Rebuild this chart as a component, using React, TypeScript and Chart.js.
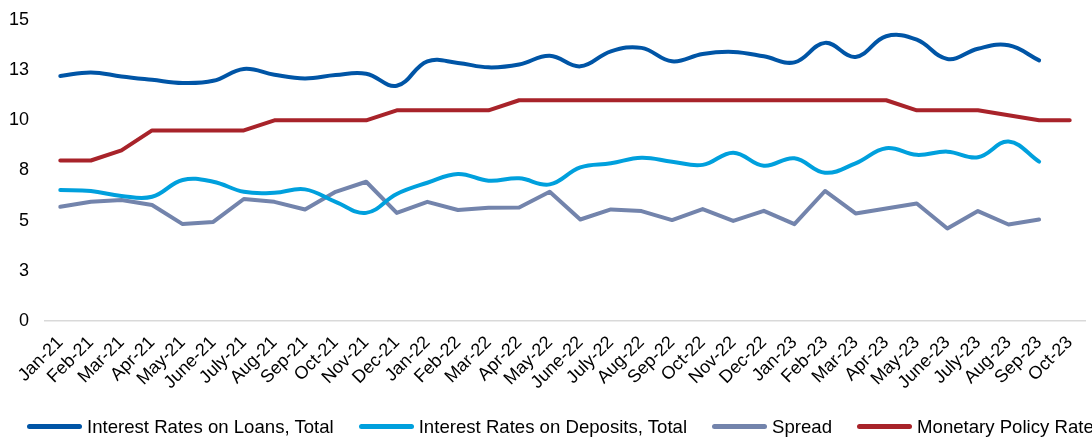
import { useEffect, useRef } from "react";
import { Chart, registerables } from "chart.js";

Chart.register(...registerables);

const FONT = "'Liberation Sans', Arial, sans-serif";

const categories = [
  "Jan-21", "Feb-21", "Mar-21", "Apr-21", "May-21", "June-21", "July-21", "Aug-21", "Sep-21", "Oct-21", "Nov-21", "Dec-21",
  "Jan-22", "Feb-22", "Mar-22", "Apr-22", "May-22", "June-22", "July-22", "Aug-22", "Sep-22", "Oct-22", "Nov-22", "Dec-22",
  "Jan-23", "Feb-23", "Mar-23", "Apr-23", "May-23", "June-23", "July-23", "Aug-23", "Sep-23", "Oct-23",
];

const loans = [
  12.21, 12.39, 12.19, 12.02, 11.86, 11.97, 12.56, 12.27, 12.09, 12.26, 12.32, 11.72,
  12.94, 12.86, 12.64, 12.78, 13.22, 12.69, 13.44, 13.61, 12.94, 13.31, 13.41, 13.19,
  12.89, 13.86, 13.16, 14.19, 14.02, 13.06, 13.57, 13.74, 12.99, null,
];

const deposits = [
  6.53, 6.48, 6.23, 6.19, 7.03, 6.94, 6.44, 6.39, 6.56, 5.94, 5.39, 6.33,
  6.89, 7.33, 6.99, 7.11, 6.81, 7.66, 7.86, 8.14, 7.94, 7.78, 8.39, 7.74,
  8.11, 7.39, 7.86, 8.61, 8.28, 8.44, 8.16, 8.94, 7.94, null,
];

const spread = [
  5.69, 5.94, 6.03, 5.78, 4.83, 4.94, 6.08, 5.94, 5.56, 6.44, 6.94, 5.39,
  5.94, 5.53, 5.64, 5.66, 6.44, 5.06, 5.56, 5.48, 5.03, 5.58, 4.99, 5.49,
  4.83, 6.48, 5.36, 5.61, 5.86, 4.61, 5.48, 4.81, 5.06, null,
];

const policyRate = [
  8, 8, 8.5, 9.5, 9.5, 9.5, 9.5, 10, 10, 10, 10, 10.5,
  10.5, 10.5, 10.5, 11, 11, 11, 11, 11, 11, 11, 11, 11,
  11, 11, 11, 11, 10.5, 10.5, 10.5, 10.25, 10, 10,
];

const seriesNames = [
  "Interest Rates on Loans, Total",
  "Interest Rates on Deposits, Total",
  "Spread",
  "Monetary Policy Rate",
];
const seriesColors = ["#0055A6", "#00A0DD", "#7384AC", "#A8232A"];

export default function App() {
  const ref = useRef<HTMLCanvasElement>(null);

  useEffect(() => {
    const mk = (i: number, data: (number | null)[], tension: number) => ({
      label: seriesNames[i],
      data,
      borderColor: seriesColors[i],
      backgroundColor: seriesColors[i],
      borderWidth: 4,
      tension,
      borderCapStyle: "round" as const,
      borderJoinStyle: "round" as const,
      pointRadius: 0,
      fill: false,
    });
    const chart = new Chart(ref.current!, {
      type: "line",
      data: {
        labels: categories,
        datasets: [
          mk(0, loans, 0.4),
          mk(1, deposits, 0.4),
          mk(2, spread, 0),
          mk(3, policyRate, 0),
        ],
      },
      options: {
        animation: false,
        responsive: false,
        devicePixelRatio: 1,
        layout: { padding: { left: 8, right: 7, top: 20, bottom: 32.7 } },
        plugins: { legend: { display: false }, tooltip: { enabled: false } },
        scales: {
          x: {
            offset: true,
            grid: { display: false, drawTicks: false },
            border: { display: true, color: "#D9D9D9", width: 1.5 },
            afterFit: (s: any) => {
              s.paddingLeft = 0;
              s.paddingRight = 0;
            },
            ticks: {
              autoSkip: false,
              maxRotation: 45,
              minRotation: 45,
              padding: 11,
              color: "#000",
              font: { family: FONT, size: 18 },
            },
          },
          y: {
            min: 0,
            max: 15,
            grid: { display: false, drawTicks: false },
            border: { display: false },
            afterFit: (s: any) => {
              s.paddingTop = 0;
              s.paddingBottom = 0;
              s.width = 37;
            },
            ticks: {
              stepSize: 2.5,
              padding: 16,
              color: "#000",
              font: { family: FONT, size: 18 },
              callback: (v: any) => String(Math.round(Number(v))),
            },
          },
        },
      },
    });
    return () => chart.destroy();
  }, []);

  return (
    <div
      style={{
        position: "absolute",
        left: 0,
        top: 0,
        width: 1092,
        height: 437,
        overflow: "hidden",
        background: "#fff",
      }}
    >
      <canvas ref={ref} width={1092} height={437} style={{ display: "block" }} />
      <div
        style={{
          position: "absolute",
          left: 27,
          top: 416,
          display: "flex",
          alignItems: "center",
          whiteSpace: "nowrap",
          fontFamily: FONT,
          fontSize: 18.6,
          lineHeight: "21px",
          color: "#000",
        }}
      >
        {seriesNames.map((n, i) => (
          <div key={n} style={{ display: "flex", alignItems: "center", marginRight: 25, flexShrink: 0 }}>
            <span
              style={{
                display: "inline-block",
                width: 55,
                height: 5,
                borderRadius: 2.5,
                background: seriesColors[i],
                marginRight: 5,
              }}
            />
            <span>{n}</span>
          </div>
        ))}
      </div>
    </div>
  );
}
